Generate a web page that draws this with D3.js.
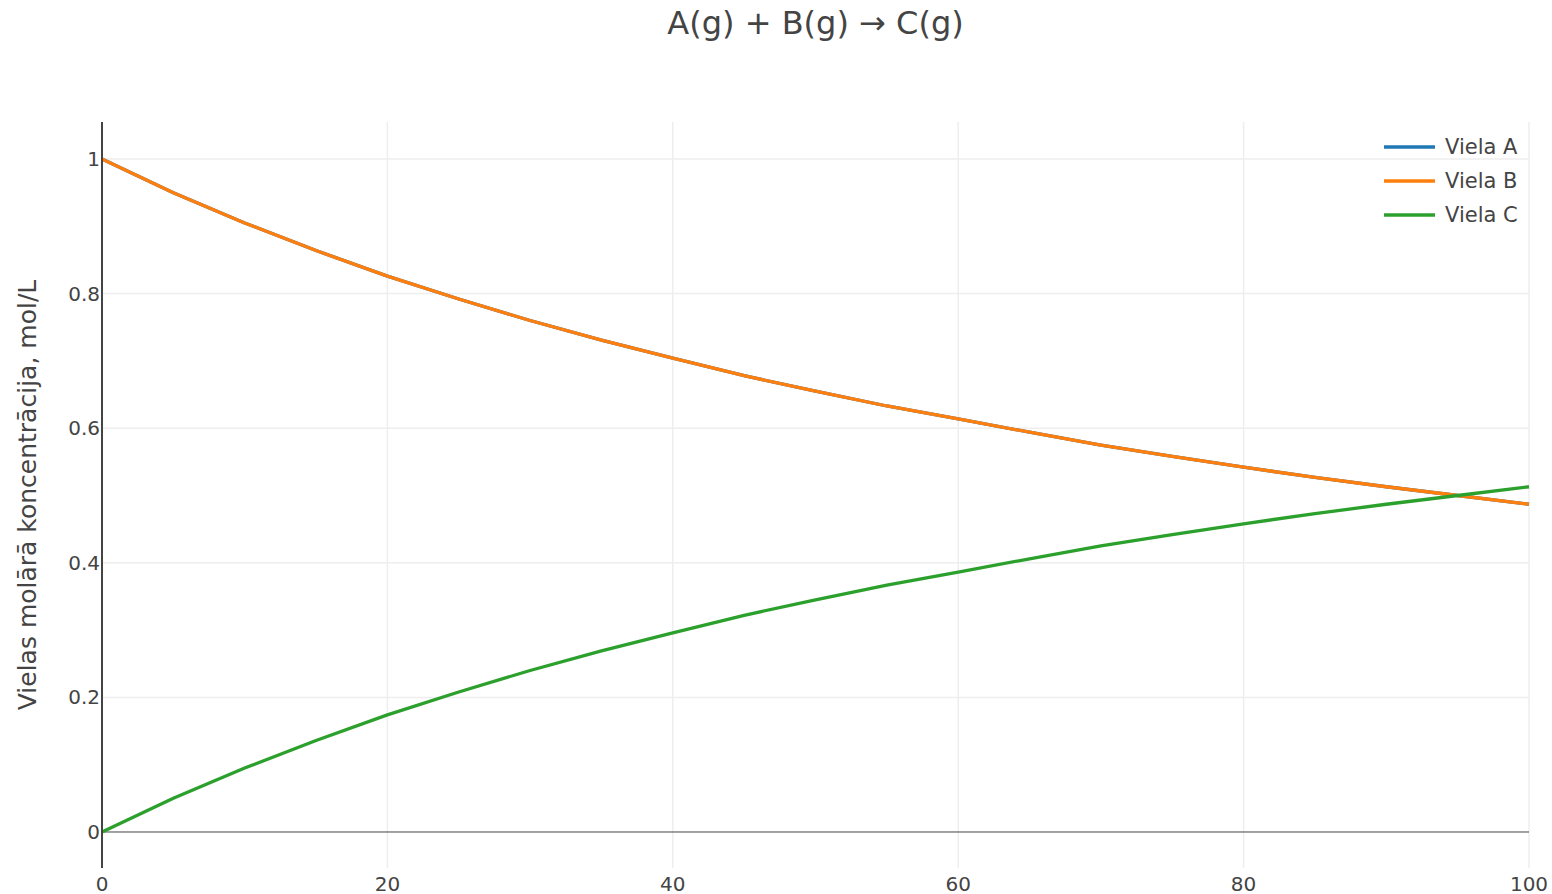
<!DOCTYPE html>
<html>
<head>
<meta charset="utf-8">
<script src="https://cdn.jsdelivr.net/npm/d3@7"></script>
<style>
  body { margin: 0; background: #fff; }
  text { font-family: "DejaVu Sans", Verdana, sans-serif; fill: #444; }
</style>
</head>
<body>
<div id="chart"></div>
<script>
// time points and concentrations
const timePoints = [0, 5, 10, 15, 20, 25, 30, 35, 40, 45, 50, 55, 60, 65, 70, 75, 80, 85, 90, 95, 100];
const concA = [1, 0.95, 0.905, 0.864, 0.826, 0.792, 0.760, 0.731, 0.704, 0.678, 0.655, 0.633, 0.614, 0.594, 0.575, 0.558, 0.542, 0.527, 0.513, 0.500, 0.487];
const concB = [1, 0.95, 0.905, 0.864, 0.826, 0.792, 0.760, 0.731, 0.704, 0.678, 0.655, 0.633, 0.614, 0.594, 0.575, 0.558, 0.542, 0.527, 0.513, 0.500, 0.487];
const concC = [0, 0.05, 0.095, 0.136, 0.174, 0.208, 0.240, 0.269, 0.296, 0.322, 0.345, 0.367, 0.386, 0.406, 0.425, 0.442, 0.458, 0.473, 0.487, 0.500, 0.513];
const seriesNames = ["Viela A", "Viela B", "Viela C"];
const seriesColors = ["#1f77b4", "#ff7f0e", "#2ca02c"];
const xTicks = [0, 20, 40, 60, 80, 100];
const yTicks = [0, 0.2, 0.4, 0.6, 0.8, 1];

const width = 1552, height = 894;
const margin = { top: 122, right: 23, bottom: 26, left: 102 };
const plotW = width - margin.left - margin.right;
const plotH = height - margin.top - margin.bottom;

const svg = d3.select("#chart").append("svg")
    .attr("width", width)
    .attr("height", height);

const x = d3.scaleLinear().domain([0, 100]).range([0, plotW]);
const y = d3.scaleLinear().domain([-0.0535, 1.055]).range([plotH, 0]);

const g = svg.append("g")
    .attr("transform", `translate(${margin.left},${margin.top})`);

// grid lines
g.selectAll(".xgrid")
    .data(xTicks.slice(1))
    .enter().append("line")
    .attr("x1", d => x(d)).attr("x2", d => x(d))
    .attr("y1", 0).attr("y2", plotH)
    .attr("stroke", "#eee").attr("stroke-width", 1.5);

g.selectAll(".ygrid")
    .data(yTicks.slice(1))
    .enter().append("line")
    .attr("x1", 0).attr("x2", plotW)
    .attr("y1", d => y(d)).attr("y2", d => y(d))
    .attr("stroke", "#eee").attr("stroke-width", 1.5);

// zero line
g.append("line")
    .attr("x1", 0).attr("x2", plotW)
    .attr("y1", y(0)).attr("y2", y(0))
    .attr("stroke", "#444").attr("stroke-width", 1);

// tick labels
g.selectAll(".xlab")
    .data(xTicks)
    .enter().append("text")
    .attr("x", d => x(d))
    .attr("y", plotH + 23)
    .attr("text-anchor", "middle")
    .style("font-size", "20px")
    .text(d => d);

g.selectAll(".ylab")
    .data(yTicks)
    .enter().append("text")
    .attr("x", -2)
    .attr("y", d => y(d))
    .attr("dy", "0.35em")
    .attr("text-anchor", "end")
    .style("font-size", "20px")
    .text(d => d);

// lines
const lineGen = d3.line()
    .x((d, i) => x(timePoints[i]))
    .y(d => y(d));

[concA, concB, concC].forEach((vals, i) => {
    g.append("path")
        .datum(vals)
        .attr("fill", "none")
        .attr("stroke", seriesColors[i])
        .attr("stroke-width", 3.3)
        .attr("stroke-linejoin", "round")
        .attr("d", lineGen);
});

// y axis line
g.append("line")
    .attr("x1", 0).attr("x2", 0)
    .attr("y1", 0).attr("y2", plotH)
    .attr("stroke", "#444").attr("stroke-width", 2);

// title
svg.append("text")
    .attr("x", margin.left + plotW / 2)
    .attr("y", 34)
    .attr("text-anchor", "middle")
    .style("font-size", "32px")
    .text("A(g) + B(g) \u2192 C(g)");

// y axis title
svg.append("text")
    .attr("transform", `translate(36,${margin.top + plotH / 2}) rotate(-90)`)
    .attr("text-anchor", "middle")
    .style("font-size", "25px")
    .text("Vielas molārā koncentrācija, mol/L");

// legend
const legend = svg.selectAll(".legend")
    .data(seriesNames)
    .enter().append("g")
    .attr("transform", (d, i) => `translate(1384,${147 + i * 34})`);

legend.append("line")
    .attr("x1", 0).attr("x2", 51)
    .attr("y1", 0).attr("y2", 0)
    .attr("stroke", (d, i) => seriesColors[i])
    .attr("stroke-width", 3.3);

legend.append("text")
    .attr("x", 61)
    .attr("y", 0)
    .attr("dy", "0.35em")
    .style("font-size", "21px")
    .text(d => d);
</script>
</body>
</html>
